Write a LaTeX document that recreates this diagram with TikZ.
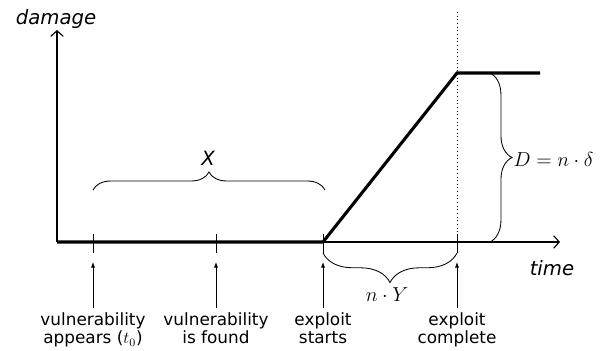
\documentclass[tikz,border=0pt]{standalone}
\usepackage[no-math]{fontspec}
\setmainfont{DejaVu Sans}
\usetikzlibrary{decorations.pathreplacing,arrows.meta}
\begin{document}
\begin{tikzpicture}[x=0.025cm,y=0.025cm,
  event/.style={align=center,anchor=north,inner sep=0pt,font=\fontsize{12}{13.2}\selectfont},
  axislabel/.style={inner sep=0pt,font=\fontsize{14}{16}\selectfont\itshape},
  mathlabel/.style={inner sep=1pt,font=\fontsize{14}{16}\selectfont},
  curly/.style={decorate,decoration={brace,amplitude=#1},line width=0.6pt},
  pointer/.style={-{Latex[length=4pt,width=3pt]},line width=0.6pt},
  axis/.style={-{Straight Barb[length=4pt,width=9pt]},line width=0.8pt}]
\useasboundingbox (0,0) rectangle (602,350);

\coordinate(o) at (57,108);
\coordinate(ytop) at (57,320);
\coordinate(xend) at (560,108);
\coordinate(t0) at (93,108);
\coordinate(tf) at (216,108);
\coordinate(ts) at (323,108);
\coordinate(tc) at (457,108);
\coordinate(peak) at (457,277);
\coordinate(pend) at (540,277);
\coordinate(dtop) at (457,338);

\draw[axis] (o) -- (ytop);
\draw[axis] (o) -- (xend);
\node[axislabel](ylab) at (56,331) {damage};
\node[axislabel](xlab) at (552,82) {time};

\draw[dotted,line width=0.6pt] (dtop) -- (tc);
\draw[line width=2.2pt] (o) -- (ts) -- (peak) -- (pend);

\draw[line width=0.6pt] (t0) +(0,8) -- +(0,-11);
\draw[line width=0.6pt] (tf) +(0,8) -- +(0,-11);
\draw[line width=0.6pt] (ts) +(0,8) -- +(0,-11);
\draw[line width=0.6pt] (tc) +(0,8) -- +(0,-11);

\node[event](v1) at (93,38) {vulnerability\\appears ($t_0$)};
\node[event](v2) at (216,38) {vulnerability\\is found};
\node[event](v3) at (323,38) {exploit\\starts};
\node[event](v4) at (457,38) {exploit\\complete};

\coordinate(p1) at (93,88);
\coordinate(p2) at (216,88);
\coordinate(p3) at (323,88);
\coordinate(p4) at (457,88);

\draw[pointer] ([yshift=3pt]v1.north) -- (p1);
\draw[pointer] ([yshift=3pt]v2.north) -- (p2);
\draw[pointer] ([yshift=3pt]v3.north) -- (p3);
\draw[pointer] ([yshift=3pt]v4.north) -- (p4);

\coordinate(x1) at (93,160);
\coordinate(x2) at (325,160);
\draw[curly=12.8pt] (x1) -- (x2);
\node[axislabel](xspan) at (208,192) {X};

\coordinate(y1) at (457,97);
\coordinate(y2) at (323,97);
\draw[curly=21pt] (y1) -- (y2);
\node[mathlabel](yspan) at (387,55) {$n\cdot Y$};

\coordinate(d1) at (490,277);
\coordinate(d2) at (490,108);
\draw[curly=15.6pt] (d1) -- (d2);
\node[mathlabel,anchor=west](dspan) at (512,191) {$D = n\cdot\delta$};

\end{tikzpicture}
\end{document}
